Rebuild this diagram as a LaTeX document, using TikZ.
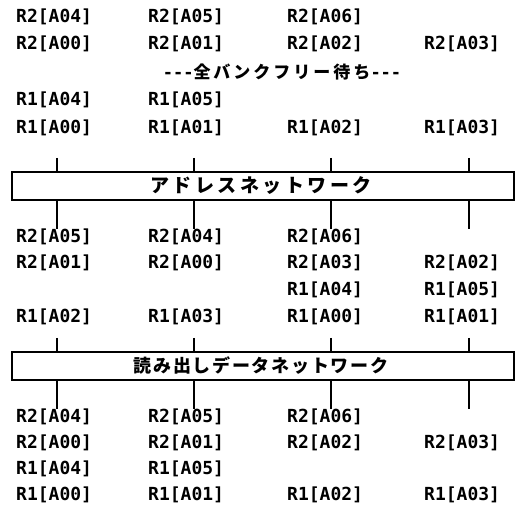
\documentclass[tikz,border=0pt]{standalone}
\usepackage{fontspec}
\newfontfamily\jp{Noto Sans CJK JP}
\newfontfamily\mono{DejaVu Sans Mono}
\begin{document}
\begin{tikzpicture}[x=1pt,y=-1pt,
 lbl/.style={font=\mono\bfseries\fontsize{18}{18}\selectfont, anchor=west, inner sep=0pt},
 net/.style={draw, line width=1.8pt, minimum width=502pt, minimum height=28pt, inner sep=0pt},
 tick/.style={line width=1.1pt}]
\useasboundingbox (0,0) rectangle (522,518);
% top section
\node[lbl] (t11) at (16,17) {R2[A04]};
\node[lbl] (t12) at (148,17) {R2[A05]};
\node[lbl] (t13) at (287,17) {R2[A06]};
\node[lbl] (t21) at (16,44) {R2[A00]};
\node[lbl] (t22) at (148,44) {R2[A01]};
\node[lbl] (t23) at (287,44) {R2[A02]};
\node[lbl] (t24) at (424,44) {R2[A03]};
\node[inner sep=0pt] (wait) at (282,72) {\mono\bfseries\fontsize{17}{17}\selectfont ---\jp\bfseries\fontsize{17}{17}\selectfont 全\kern3pt バ\kern3pt ン\kern3pt ク\kern3pt フ\kern3pt リ\kern3pt ー\kern3pt 待\kern3pt ち\mono\bfseries\fontsize{17}{17}\selectfont ---};
\node[lbl] (t41) at (16,100) {R1[A04]};
\node[lbl] (t42) at (148,100) {R1[A05]};
\node[lbl] (t51) at (16,128) {R1[A00]};
\node[lbl] (t52) at (148,128) {R1[A01]};
\node[lbl] (t53) at (287,128) {R1[A02]};
\node[lbl] (t54) at (424,128) {R1[A03]};
% address network
\node[net] (box1) at (263,186) {\jp\bfseries\fontsize{19}{19}\selectfont ア\kern3.5pt ド\kern3.5pt レ\kern3.5pt ス\kern3.5pt ネ\kern3.5pt ッ\kern3.5pt ト\kern3.5pt ワ\kern3.5pt ー\kern3.5pt ク\kern4pt};
% middle section
\node[lbl] (m11) at (16,237) {R2[A05]};
\node[lbl] (m12) at (148,237) {R2[A04]};
\node[lbl] (m13) at (287,237) {R2[A06]};
\node[lbl] (m21) at (16,263) {R2[A01]};
\node[lbl] (m22) at (148,263) {R2[A00]};
\node[lbl] (m23) at (287,263) {R2[A03]};
\node[lbl] (m24) at (424,263) {R2[A02]};
\node[lbl] (m33) at (287,290) {R1[A04]};
\node[lbl] (m34) at (424,290) {R1[A05]};
\node[lbl] (m41) at (16,317) {R1[A02]};
\node[lbl] (m42) at (148,317) {R1[A03]};
\node[lbl] (m43) at (287,317) {R1[A00]};
\node[lbl] (m44) at (424,317) {R1[A01]};
% read data network
\node[net] (box2) at (263,366) {\jp\bfseries\fontsize{18}{18}\selectfont 読\kern1.7pt み\kern1.7pt 出\kern1.7pt し\kern1.7pt デ\kern1.7pt ー\kern1.7pt タ\kern1.7pt ネ\kern1.7pt ッ\kern1.7pt ト\kern1.7pt ワ\kern1.7pt ー\kern1.7pt ク\kern4pt};
% bottom section
\node[lbl] (b11) at (16,417) {R2[A04]};
\node[lbl] (b12) at (148,417) {R2[A05]};
\node[lbl] (b13) at (287,417) {R2[A06]};
\node[lbl] (b21) at (16,443) {R2[A00]};
\node[lbl] (b22) at (148,443) {R2[A01]};
\node[lbl] (b23) at (287,443) {R2[A02]};
\node[lbl] (b24) at (424,443) {R2[A03]};
\node[lbl] (b31) at (16,469) {R1[A04]};
\node[lbl] (b32) at (148,469) {R1[A05]};
\node[lbl] (b41) at (16,495) {R1[A00]};
\node[lbl] (b42) at (148,495) {R1[A01]};
\node[lbl] (b43) at (287,495) {R1[A02]};
\node[lbl] (b44) at (424,495) {R1[A03]};
% ticks
\foreach \x [count=\i] in {57,194,331,469} {
  \coordinate (ua\i) at (\x,158);
  \coordinate (da\i) at (\x,229);
  \coordinate (ub\i) at (\x,338);
  \coordinate (db\i) at (\x,409);
  \draw[tick] (ua\i) -- (ua\i |- box1.north);
  \draw[tick] (box1.south -| da\i) -- (da\i);
  \draw[tick] (ub\i) -- (ub\i |- box2.north);
  \draw[tick] (box2.south -| db\i) -- (db\i);
}
\end{tikzpicture}
\end{document}
